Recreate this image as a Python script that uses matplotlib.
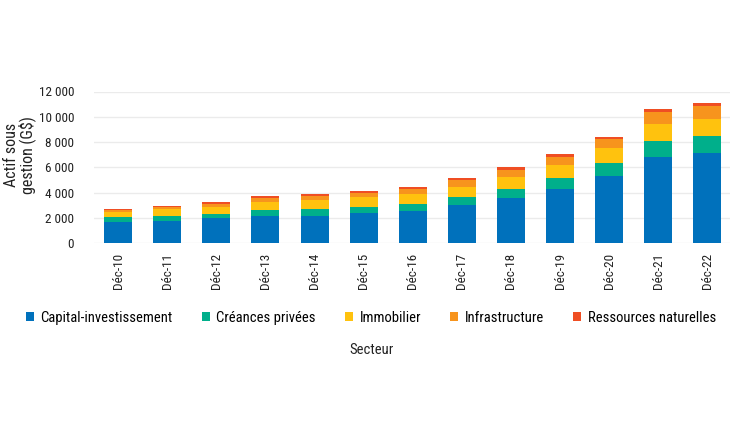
import matplotlib.pyplot as plt
from matplotlib.ticker import FuncFormatter
from matplotlib.patches import Patch

plt.rcParams['font.family'] = ['Roboto Condensed', 'Liberation Sans Narrow', 'Roboto', 'DejaVu Sans']

# Data (G$)
years = ['Déc-10', 'Déc-11', 'Déc-12', 'Déc-13', 'Déc-14', 'Déc-15', 'Déc-16',
         'Déc-17', 'Déc-18', 'Déc-19', 'Déc-20', 'Déc-21', 'Déc-22']
capital = [1710, 1790, 1980, 2160, 2180, 2370, 2550, 3050, 3580, 4320, 5300, 6820, 7160]
creances = [350, 370, 360, 470, 530, 520, 580, 610, 740, 840, 1050, 1240, 1320]
immobilier = [440, 550, 550, 660, 690, 750, 740, 790, 920, 1050, 1160, 1350, 1370]
infrastructure = [110, 160, 240, 320, 340, 360, 420, 530, 530, 610, 760, 950, 1000]
ressources = [100, 100, 130, 130, 130, 130, 160, 210, 240, 220, 160, 230, 220]

series = [
    ('Capital-investissement', capital, '#0071BC'),
    ('Créances privées', creances, '#00AF8B'),
    ('Immobilier', immobilier, '#FFC20E'),
    ('Infrastructure', infrastructure, '#F7941D'),
    ('Ressources naturelles', ressources, '#EF4E23'),
]

fig = plt.figure(figsize=(7.3, 4.42), dpi=100)
ax = fig.add_axes([93.5 / 730, 1 - 243.3 / 442, (732 - 93.5) / 730, (243.3 - 91.5) / 442])

x = range(len(years))
bottom = [0] * len(years)
for name, vals, color in series:
    ax.bar(x, vals, width=0.57, bottom=bottom, color=color, label=name, zorder=3)
    bottom = [b + v for b, v in zip(bottom, vals)]

ax.set_xlim(-0.5, len(years) - 0.5)
ax.set_ylim(0, 12000)
ax.set_yticks(range(0, 12001, 2000))
ax.yaxis.set_major_formatter(FuncFormatter(lambda v, p: f'{int(v):,}'.replace(',', ' ')))
ax.set_xticks(list(x))
ax.set_xticklabels(years, rotation=90)
ax.tick_params(axis='both', length=0, labelsize=9.5, colors='#222222')
ax.tick_params(axis='y', pad=14)
ax.tick_params(axis='x', pad=7)
ax.grid(axis='y', color='#EBEBEB', linewidth=1, zorder=0)
for s in ax.spines.values():
    s.set_visible(False)

fig.text(20 / 730, 1 - 155 / 442, 'Actif sous\ngestion (G$)', rotation=90,
         ha='center', va='center', fontsize=11.5, color='#222222', linespacing=1.0)

handles = [Patch(facecolor=c, label=n) for n, _, c in series]
fig.legend(handles=handles, loc='center', bbox_to_anchor=(371 / 730, 1 - 318 / 442),
           ncol=5, frameon=False, fontsize=10.5, handlelength=0.55, handleheight=0.55,
           handletextpad=0.45, columnspacing=2.0)
fig.text(371 / 730, 1 - 350 / 442, 'Secteur', ha='center', va='center',
         fontsize=10.5, color='#222222')

fig.savefig('out.png', dpi=100)
